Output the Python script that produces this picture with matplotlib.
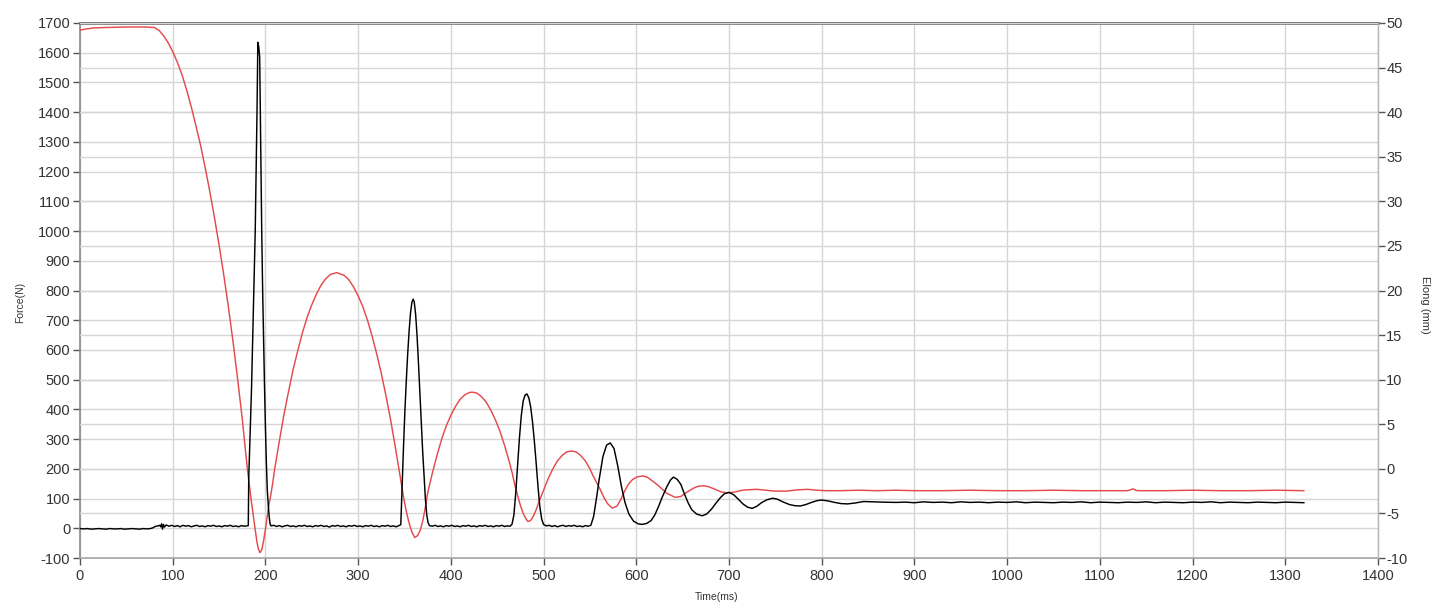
import matplotlib
matplotlib.use("Agg")
import matplotlib.pyplot as plt

# ---------------- data ----------------
# Force (N) vs time (ms)
force_t = [
    0, 4, 8, 12, 16, 20, 24, 28, 32, 36, 40, 44, 48, 52, 56, 60, 64, 68, 72, 76, 79,
    81, 84, 86, 87, 88, 89, 90, 91, 93, 96, 99, 102, 105, 108, 111, 114, 117, 120, 123,
    126, 129, 132, 135, 138, 141, 144, 147, 150, 153, 156, 159, 162, 165, 168, 171, 174,
    177, 180, 181.5,
    182, 183, 184, 185, 186, 187, 188, 189, 190, 191, 191.8, 192.8, 193.8, 195, 196, 197,
    198, 199, 200, 201, 202, 203, 204, 205, 206,
    209, 212, 215, 218, 221, 224, 227, 230, 233, 236, 239, 242, 245, 248, 251, 254, 257,
    260, 263, 266, 269, 272, 275, 278, 281, 284, 287, 290, 293, 296, 299, 302, 305, 308,
    311, 314, 317, 320, 323, 326, 329, 332, 335, 338, 341, 344, 346,
    347.5, 349, 350.5, 352, 353.5, 355, 356.5, 358, 359.3, 360.5, 362, 363.5, 365, 366.5,
    368, 369.5, 371, 372.5, 374, 375.5, 377,
    380, 383, 386, 389, 392, 395, 398, 401, 404, 407, 410, 413, 416, 419, 422, 425, 428,
    431, 434, 437, 440, 443, 446, 449, 452, 455, 458, 461, 464, 466,
    468, 470, 472, 474, 476, 478, 480, 482, 484, 486, 488, 490, 492, 494, 496, 498, 500,
    503, 506, 509, 512, 515, 518, 521, 524, 527, 530, 533, 536, 539, 542, 545, 548, 551,
    554, 557, 560, 564, 568, 572, 576, 580, 584, 588, 592, 597, 602, 606, 611, 616, 620,
    624, 628, 633, 637, 640, 644, 648, 652, 656, 660, 665, 671, 676, 681, 686, 691, 695,
    700, 705, 710, 715, 720, 725, 730, 735, 741, 747, 752, 758, 765, 771, 777, 783, 789,
    795, 800, 807, 814, 821, 828, 836, 845, 855, 865, 880,
    890, 900, 910, 920, 930, 940, 950, 960, 970, 980, 990, 1000, 1010, 1020, 1030, 1040,
    1050, 1060, 1070, 1080, 1090, 1100, 1110, 1120, 1130, 1140, 1150, 1160, 1170, 1180,
    1190, 1200, 1210, 1220, 1230, 1240, 1250, 1260, 1270, 1280, 1290, 1300, 1310, 1320,
]
force_n = [
    -1, -2, -1, -3, -2, -1, -2, -3, -1, -2, -2, -1, -3, -2, -1, -2, -3, -1, -2, -1, 2,
    6, 8, 10, 5, 15, -3, 13, 4, 11, 7, 10, 6, 9, 5, 10, 7, 9, 5, 8,
    10, 6, 8, 5, 9, 7, 10, 6, 8, 5, 9, 7, 10, 6, 8, 5, 9,
    7, 8, 9,
    170, 270, 370, 470, 600, 720, 850, 1000, 1200, 1420, 1635, 1620, 1585, 1250, 1000, 800,
    640, 480, 340, 220, 130, 80, 40, 15, 8,
    10, 6, 9, 5, 8, 10, 6, 8, 5, 9, 7, 10, 6, 8, 5, 9, 7,
    10, 6, 8, 4, 9, 7, 10, 6, 8, 5, 9, 7, 10, 6, 8, 5, 9,
    7, 10, 6, 8, 5, 9, 7, 10, 6, 8, 5, 9, 12,
    150, 280, 400, 500, 590, 665, 725, 760, 771, 762, 720, 650, 560, 460,
    360, 265, 180, 100, 45, 18, 9,
    7, 10, 6, 8, 5, 9, 7, 10, 6, 8, 5, 9, 7, 10, 6, 8, 5,
    9, 7, 10, 6, 8, 5, 9, 7, 10, 6, 8, 7, 14,
    45, 120, 215, 305, 380, 428, 448, 452, 440, 410, 360, 295, 220, 140, 72, 30, 13,
    8, 10, 6, 9, 5, 8, 10, 6, 9, 7, 10, 6, 8, 5, 9, 7, 10,
    40, 100, 165, 241, 280, 287, 268, 210, 140, 85, 48, 24, 15, 13, 16, 26, 45,
    73, 105, 140, 163, 172, 165, 148, 115, 85, 62, 48, 42, 48, 64, 85, 104, 116,
    121, 113, 98, 82, 71, 67, 74, 86, 96, 101, 98, 89, 80, 76, 75, 80, 87,
    93, 95, 92, 87, 83, 82, 85, 90, 89, 88, 87,
    88, 86, 89, 87, 88, 86, 89, 87, 88, 86, 88, 87, 89, 86, 88, 87,
    86, 88, 87, 89, 86, 88, 87, 86, 88, 87, 89, 86, 88, 87,
    86, 88, 87, 89, 86, 88, 87, 86, 88, 87, 86, 88, 87, 86,
]

# Elongation (mm) vs time (ms)
elong_t = [
    0, 5, 15, 30, 50, 70, 80, 85, 90, 95, 100, 105, 110, 115, 120, 125, 130, 135, 140,
    145, 150, 155, 160, 165, 170, 175, 180.5, 184.4, 186.6, 188.8, 191, 192.5, 194.2, 196,
    198, 200, 202, 204, 205.7, 208, 210, 215, 220, 225, 230, 235, 240, 245, 250, 255, 260,
    265, 270, 277, 285, 290, 295, 300, 305, 310, 315, 320, 325, 330, 335, 340, 346,
    349, 352, 355, 358, 361, 364, 367, 370, 373, 375,
    380, 385, 390, 395, 400, 405, 410, 415, 420, 423, 428, 433, 438, 443, 448, 453, 458,
    463, 466,
    469, 472, 475, 478, 481, 483, 486, 489, 492, 495, 498, 500,
    505, 510, 515, 520, 525, 530, 535, 540, 545, 550, 553,
    557, 561, 565, 569, 574, 579, 583, 587, 591, 596, 601, 607, 612, 618, 624, 633,
    642, 648, 655, 662, 667, 672, 678, 685, 692, 699, 706, 714, 720, 730, 740, 750,
    762, 775, 785, 795, 805, 820, 840, 860, 880, 900, 930, 960, 990, 1020, 1050, 1080,
    1110, 1130, 1136, 1140, 1170, 1200, 1230, 1260, 1290, 1320,
]
elong_mm = [
    49.2, 49.3, 49.45, 49.5, 49.55, 49.55, 49.5, 49.2, 48.6, 47.8, 46.8, 45.6, 44.2,
    42.5, 40.6, 38.5, 36.3, 33.8, 31.1, 28.2, 25.1, 21.8, 18.2, 14.3, 10.1, 5.6, 0.0,
    -3.3, -5.0, -6.7, -8.3, -9.0, -9.4, -9.1, -8.1, -6.8, -5.3, -3.9,
    -3.0, -1.5, 0.0, 3.1, 6.1, 8.7, 11.2, 13.3, 15.3, 17.0, 18.4, 19.6, 20.6, 21.3, 21.8,
    22.0, 21.7, 21.2, 20.4, 19.4, 18.2, 16.7, 14.9, 12.9, 10.7, 8.2, 5.5, 2.5, -1.35,
    -3.2, -4.8, -6.1, -7.1, -7.7, -7.5, -6.9, -5.7, -4.0, -2.7,
    -0.5, 1.5, 3.3, 4.8, 6.0, 7.0, 7.8, 8.3, 8.56, 8.6, 8.5, 8.1, 7.5, 6.6, 5.5, 4.2,
    2.6, 0.8, -0.4,
    -1.8, -3.0, -4.1, -5.0, -5.6, -5.9, -5.8, -5.3, -4.6, -3.7, -2.9, -2.4,
    -1.1, 0.0, 0.9, 1.5, 1.9, 2.0, 1.9, 1.5, 0.9, 0.0, -0.7,
    -1.5, -2.3, -3.2, -3.9, -4.4, -4.2, -3.5, -2.6, -1.8, -1.2, -0.9, -0.8, -0.95, -1.4,
    -1.9, -2.75,
    -3.2, -3.1, -2.6, -2.15, -1.95, -1.9, -2.0, -2.3, -2.6, -2.7, -2.6, -2.4, -2.35,
    -2.3, -2.4, -2.5, -2.5, -2.35, -2.3, -2.4, -2.45, -2.45, -2.4, -2.45, -2.4, -2.45,
    -2.45, -2.4, -2.45, -2.45, -2.4, -2.45, -2.45, -2.45, -2.25, -2.45, -2.45, -2.4,
    -2.45, -2.45, -2.4, -2.45,
]

x_ticks = list(range(0, 1401, 100))
force_ticks = list(range(-100, 1701, 100))
elong_ticks = list(range(-10, 51, 5))

# ---------------- figure ----------------
plt.rcParams['font.family'] = ['Liberation Sans', 'DejaVu Sans']
plt.rcParams['axes.unicode_minus'] = False
W, H = 1445, 608
fig = plt.figure(figsize=(W / 100, H / 100), dpi=100)
fig.patch.set_facecolor('white')

L, R, T, B = 80, 1378, 23, 558
rect = [L / W, 1 - B / H, (R - L) / W, (B - T) / H]
ax = fig.add_axes(rect)
ax2 = ax.twinx()
ax3 = ax.twinx()

grid_c = '#d6d6d6'
tick_c = '#555555'
lab_c = '#333333'

ax.set_xlim(0, 1400)
ax.set_ylim(-100, 1700)
ax.set_xticks(x_ticks)
ax.set_yticks(force_ticks)
ax.grid(True, color=grid_c, lw=1.0)
ax.set_axisbelow(True)

ax2.set_ylim(-10, 50)
ax2.set_yticks(elong_ticks)
ax2.grid(True, axis='y', color=grid_c, lw=1.0)

ax3.set_ylim(-100, 1700)
ax3.axis('off')

ax2.plot(elong_t, elong_mm, color='#e44a4d', lw=1.05)
ax3.plot(force_t, force_n, color='black', lw=1.05)

ax.tick_params(axis='both', direction='out', length=5, width=1, color=tick_c,
               labelsize=10.5, labelcolor=lab_c)
ax.tick_params(axis='y', pad=2)
ax.tick_params(axis='x', pad=3)
ax2.tick_params(axis='y', direction='out', length=5, width=1, color=tick_c,
                labelsize=10.5, labelcolor=lab_c, pad=1)

for s in ['left', 'right', 'top', 'bottom']:
    ax2.spines[s].set_visible(s == 'right')
ax2.spines['right'].set_color('#b5b5b5')
ax2.spines['right'].set_linewidth(1.0)
ax.spines['right'].set_visible(False)
ax.spines['top'].set_color('#6e6e6e')
ax.spines['top'].set_linewidth(2.0)
ax.spines['left'].set_color('#8a8a8a')
ax.spines['left'].set_linewidth(1.2)
ax.spines['bottom'].set_color('#a0a0a0')
ax.spines['bottom'].set_linewidth(1.2)

fig.text(20 / W, 1 - 302 / H, 'Force(N)', rotation=90, ha='center', va='center',
         fontsize=7.5, color=lab_c)
fig.text(1425 / W, 1 - 305 / H, 'Elong (mm)', rotation=270, ha='center', va='center',
         fontsize=8, color=lab_c)
fig.text(717 / W, 1 - 597 / H, 'Time(ms)', ha='center', va='center',
         fontsize=7.5, color=lab_c)

fig.savefig('out.png', dpi=100)
